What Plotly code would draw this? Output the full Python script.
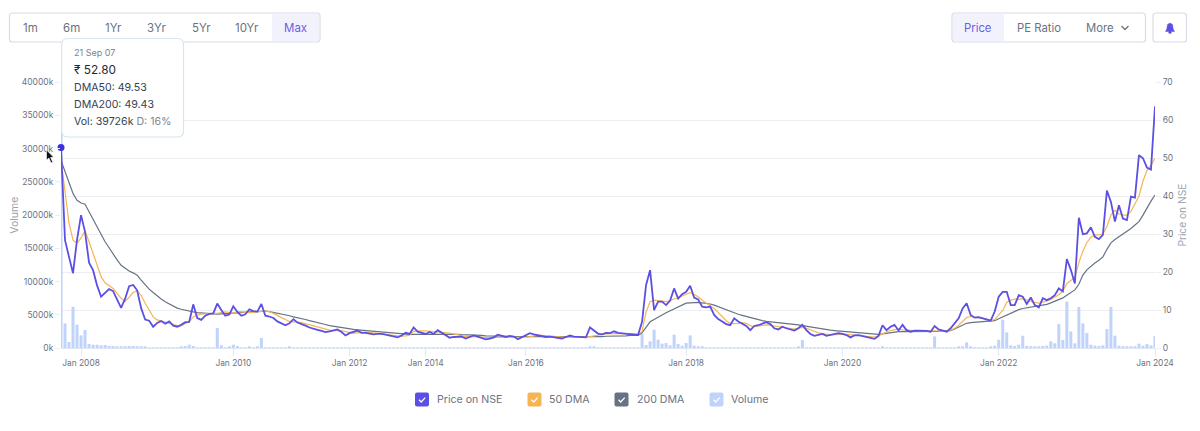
import pandas as pd
import plotly.graph_objects as go

W, H = 1200, 431
FONT = "Inter"
PURPLE = "#5b50e3"
ORANGE = "#f5b553"
SLATE = "#667385"
LIGHT = "#bfd3fb"
GRID = "#eceef2"
GREY = "#6b7280"

# each span of dates gets its own number of samples, the axis is not linear in time
date_spans = [
    ("2007-09-21", "2007-12-28", 5),
    ("2008-01-01", "2009-12-28", 38),
    ("2010-01-01", "2011-12-28", 29),
    ("2012-01-01", "2013-12-28", 19),
    ("2014-01-01", "2015-12-28", 25),
    ("2016-01-01", "2017-12-28", 40),
    ("2018-01-01", "2019-12-28", 39),
    ("2020-01-01", "2021-12-28", 39),
    ("2022-01-01", "2023-12-28", 39),
    ("2024-01-01", "2024-01-05", 1),
]
tick_dates = ["2008-01-01", "2010-01-01", "2012-01-01", "2014-01-01", "2016-01-01",
              "2018-01-01", "2020-01-01", "2022-01-01", "2024-01-01"]
tick_labels = ["Jan 2008", "Jan 2010", "Jan 2012", "Jan 2014", "Jan 2016",
               "Jan 2018", "Jan 2020", "Jan 2022", "Jan 2024"]

price = [
    52.8, 28.4, 24, 19.7, 28.5, 35, 30.6, 22.5, 20.5, 16.5,
    13.5, 14.5, 15.5, 15, 12.8, 10.6, 13, 16.3, 16.6, 15.2,
    10.5, 7.5, 7.2, 5.6, 6.6, 7.1, 6.4, 7, 5.9, 5.6,
    6.1, 6.8, 6.9, 11.5, 7.9, 7.4, 8.5, 9, 9.1, 11.7,
    10, 8.5, 8.8, 11, 9.5, 8.5, 8.9, 10.2, 9.7, 9.6,
    11.6, 8.5, 8.3, 7.9, 7, 6.4, 6, 6.5, 7.6, 6.7,
    6.4, 5.9, 5.4, 5.2, 4.8, 4.5, 4.2, 4.4, 4.6, 4.9,
    4.2, 3.3, 3.9, 4.3, 4.6, 4, 4, 3.8, 3.6, 3.7,
    3.7, 3.5, 3.3, 3, 2.8, 3.3, 4, 3.7, 5.4, 4.3,
    4, 3.7, 4.2, 3.7, 4.7, 4, 3.2, 2.7, 2.9, 3,
    3, 2.5, 2.9, 3.3, 3, 2.7, 2.3, 2.5, 2.8, 3.5,
    3.1, 2.9, 3.2, 3, 2.3, 2.8, 3.4, 3.9, 3.6, 3.3,
    3.1, 2.9, 3, 2.8, 2.7, 2.5, 2.9, 3.3, 3, 2.9,
    2.8, 2.8, 5.4, 4.6, 3.8, 3.6, 4, 3.9, 4.4, 4,
    3.9, 3.9, 3.8, 3.6, 3.4, 6.9, 16.6, 20.5, 10, 12.2,
    12.2, 11.3, 12.5, 15.7, 13, 14.2, 14.8, 16.4, 13.3, 12.8,
    10.9, 10.7, 10.9, 8.7, 7.6, 7, 6.3, 6, 7.8, 7,
    6.5, 5.8, 4.7, 5.8, 6, 6.3, 6.8, 6.3, 5.2, 4.9,
    5.6, 5.2, 4.9, 4.6, 5.2, 6.1, 4.7, 3.7, 3.2, 3.5,
    3.7, 3.2, 3.5, 3.8, 3.9, 3.7, 3.4, 2.8, 3.3, 3.4,
    3.2, 2.8, 2.6, 2.4, 3.2, 6, 4.7, 5.6, 6.1, 4.6,
    6.1, 4.7, 4.3, 4.6, 4.6, 4.6, 4.5, 4.3, 5.8, 4.9,
    4.6, 4.3, 5.2, 6.5, 7.8, 10.4, 11.8, 8.7, 8, 8.1,
    7.8, 7.6, 7.2, 9.6, 13.5, 14.8, 14.8, 11.3, 11.3, 13.9,
    13.5, 11.6, 13.3, 11.3, 10.7, 13.1, 12.6, 13.1, 13.9, 15.7,
    14.9, 23.4, 20.6, 17, 34.3, 30, 30.2, 31.8, 29.3, 28.7,
    29.8, 41.5, 38.5, 33.3, 37.6, 34.1, 33.7, 39.9, 39.6, 50.8,
    50, 47.5, 47, 63.7,
]

dma50 = [
    49.6, 41.6, 32.9, 28.4, 27.6, 29, 30.9, 28, 25, 21.8,
    18.8, 17.2, 16.4, 15.7, 14.4, 13.1, 12.2, 13.5, 14.6, 15.1,
    13.9, 11.8, 9.8, 8.2, 7.4, 7.1, 6.9, 6.6, 6.2, 5.9,
    5.9, 6.4, 6.9, 8.2, 8.7, 8.9, 9, 9, 9.1, 9.1,
    9.4, 9.5, 9.3, 9.2, 9.5, 9.6, 9.4, 9.3, 9.4, 9.5,
    9.7, 9.8, 9.6, 9.2, 8.6, 8, 7.4, 7, 6.9, 6.9,
    6.7, 6.4, 6.1, 5.8, 5.5, 5.1, 4.9, 4.7, 4.6, 4.6,
    4.6, 4.3, 4, 3.9, 4, 4.2, 4.2, 4.1, 3.9, 3.8,
    3.7, 3.6, 3.5, 3.4, 3.2, 3.1, 3.2, 3.4,
    4.4, 4.5, 4.5, 4.5, 4.4, 4.3, 4.3, 4.2, 4.1, 3.9, 3.7,
    3.4, 3.2, 3, 3, 3, 3, 2.9, 2.8, 2.7, 2.7, 2.8,
    2.8, 2.8, 2.9, 2.9, 2.8, 2.8, 2.9, 3, 3.2, 3.3, 3.3,
    3.2, 3.1, 3, 2.9, 2.8, 2.8, 2.8, 2.9, 2.9, 2.9, 2.9,
    3, 3.2, 3.4, 3.6, 3.7, 3.8, 3.8, 3.9, 3.9, 3.9, 3.9, 3.8, 3.7,
    4.3, 9.5, 12.2, 12.6, 12.4, 12.2, 12.2, 12.5, 13, 13.3,
    13.7, 14.2, 14.6, 14.1, 13.5, 12.6, 11.9, 11.3, 10.4, 9.4,
    8.2, 7.2, 6.5, 6.4, 6.5, 6.7, 6.5, 5.9, 5.6, 5.8,
    6, 6.1, 6, 5.8, 5.6, 5.4, 5.3, 5.2,
    5, 5.2, 5.4, 5.2, 4.9, 4.4, 4, 3.8, 3.6, 3.5,
    3.5, 3.6, 3.6, 3.6, 3.5, 3.4, 3.3, 3.2, 3.1, 3,
    2.9, 3.2, 3.8, 4.2, 4.6, 4.9, 5,
    4.8, 4.7, 4.7, 4.6, 4.6, 4.6, 4.5, 4.5, 4.5, 4.5,
    4.4, 4.4, 4.7, 5.2, 6, 6.9, 8, 8.3, 8.2, 8,
    7.8, 7.6, 7.2, 7.5, 8.8, 9.9, 12, 12.6, 12.9, 12.8,
    13, 12.6, 12.2, 12, 11.8, 12, 12.4, 12.8, 13.3, 14,
    15, 17, 17.8, 18.5, 22.5, 25.5, 27.8, 29.2, 29.8, 29.8,
    30, 32, 35, 36.3, 35.3, 35, 35, 36, 38, 40,
    44, 46.8, 48.2, 50,
]

dma200 = [
    49.4, 46.4, 43.4, 40.7, 38.9, 38.2, 37.9, 35.9, 33.7, 31.8,
    29.7, 28, 26.4, 24.7, 23.2, 21.8, 21, 20.3, 19.8, 19.2,
    17.9, 16.6, 15.5, 14.6, 13.7, 12.9, 12.2, 11.6, 11.1, 10.5,
    10.2, 9.9, 9.7, 9.5, 9.3, 9.2, 9.05,
    9, 8.9, 8.9, 9, 9, 9.1, 9.2, 9.3, 9.4, 9.5,
    9.5, 9.6, 9.6, 9.7, 9.7, 9.6, 9.4, 9.2, 9, 8.7,
    8.5, 8.2, 8, 7.7, 7.5, 7.2, 7, 6.7, 6.4, 6.2,
    5.9, 5.7, 5.5, 5.3, 5.1, 5, 4.9, 4.8, 4.7, 4.6,
    4.5, 4.4, 4.3, 4.2, 4.1, 4, 3.9, 3.8, 3.7, 3.7, 3.6,
    3.6, 3.6, 3.6, 3.6, 3.6, 3.6, 3.7, 3.7, 3.7, 3.7, 3.6,
    3.6, 3.5, 3.5, 3.4, 3.4, 3.3, 3.3, 3.2, 3.2, 3.1, 3.1,
    3.1, 3.1, 3, 3, 3, 3, 3, 3, 3, 3, 3,
    3, 3, 2.9, 2.9, 2.9, 2.9, 2.9, 2.9, 2.9, 2.9, 2.9,
    2.9, 3, 3, 3, 3.1, 3.1, 3.1, 3.2, 3.2, 3.2, 3.3, 3.3, 3.3,
    4, 5.6, 6.9, 7.5, 8, 8.7, 9.3, 9.8, 10.4, 10.9,
    11.3, 11.8, 11.9, 12, 12, 11.9, 11.8, 11.6, 11.3, 10.9,
    10.4, 10, 9.5, 9.1, 8.9, 8.6, 8.3, 8, 7.7, 7.4,
    7.2, 7, 6.9, 6.8, 6.6, 6.5, 6.4, 6.3,
    6.2, 6.1, 5.9, 5.7, 5.5, 5.3, 5.1, 4.9, 4.8, 4.7,
    4.6, 4.5, 4.4, 4.3, 4.2, 4.1, 4, 3.9, 3.8, 3.7,
    3.6, 3.6, 3.7, 3.9, 4.1, 4.2, 4.3,
    4.3, 4.3, 4.3, 4.3, 4.3, 4.3, 4.3, 4.3, 4.3, 4.4,
    4.4, 4.5, 4.6, 5, 5.5, 6, 6.5, 6.7, 6.8, 6.9,
    7, 7, 7.1, 7.2, 7.7, 8.2, 8.8, 9.3, 9.8, 10.1,
    10.4, 10.6, 10.8, 10.9, 11.1, 11.2, 11.5, 11.9, 12.3, 12.7,
    13.2, 13.9, 14.7, 15.3, 16.8, 19.2, 20.6, 21.6, 22.4, 23.1,
    24, 26, 27.7, 28.6, 29.3, 30, 30.7, 31.5, 32.4, 33.3,
    35, 37, 38.7, 40.3,
]

# volume in thousands
volume = [
    39726, 3700, 900, 6200, 3500, 1900, 2700, 600, 500, 500,
    400, 450, 300, 300, 250, 200, 200, 300, 300, 250,
    150, 120, 100, 100, 80, 80, 60, 60, 60, 80,
    150, 300, 500, 300, 100, 80, 60,
    60, 50, 3000, 400, 100, 200, 500, 300, 60, 80,
    250, 60, 150, 1500, 100, 80, 60, 50, 60, 50,
    200, 100, 40, 50, 40, 30, 30, 30, 30, 30,
    30, 30, 30, 30, 80, 50, 30, 30, 30, 30,
    30, 30, 30, 30, 30, 30, 30, 30, 30, 30, 30,
    60, 40, 30, 30, 30, 30, 30, 30, 30, 30, 30,
    30, 30, 30, 30, 30, 30, 30, 30, 30, 30, 30,
    30, 30, 30, 30, 30, 30, 30, 30, 30, 30, 30,
    30, 30, 30, 30, 30, 30, 30, 30, 30, 30, 30,
    200, 250, 100, 80, 60, 50, 50, 40, 40, 40, 40, 40, 40,
    2150, 450, 1000, 2760, 1250, 650, 750, 400, 2000, 600,
    350, 750, 1900, 350, 250, 150, 100, 80, 60, 60,
    100, 80, 60, 50, 40, 40, 60, 50, 40, 40,
    40, 40, 40, 40, 40, 40, 40, 40,
    40, 200, 1200, 60, 40, 40, 40, 40, 40, 40,
    40, 40, 40, 40, 40, 40, 40, 40, 40, 40,
    60, 100, 120, 100, 100, 80, 100,
    60, 50, 60, 80, 60, 60, 80, 100, 1750, 100,
    60, 60, 60, 100, 150, 120, 850, 200, 100, 80,
    60, 80, 150, 350, 1250, 4270, 2350, 400, 300, 500,
    1850, 300, 150, 150, 200, 300, 350, 1000, 700, 3600,
    1200, 7000, 2500, 700, 6170, 3700, 2250, 500, 350, 300,
    400, 2850, 6170, 1850, 350, 250, 200, 150, 150, 650,
    350, 600, 400, 1850,
]

range_buttons = ["1m", "6m", "1Yr", "3Yr", "5Yr", "10Yr", "Max"]
view_buttons = ["Price", "PE Ratio", "More"]

dates = []
for start, end, n in date_spans:
    if n == 1:
        dates.append(start)
    else:
        dates += [d.strftime("%Y-%m-%d") for d in pd.date_range(start, end, periods=n)]


def fx(px):
    return px / W


def fy(py):
    return 1 - py / H


def rounded(x0, y0, x1, y1, r):
    # rounded box path in paper coordinates, input in pixels
    pts = [
        f"M {fx(x0 + r)} {fy(y0)}", f"L {fx(x1 - r)} {fy(y0)}", f"Q {fx(x1)} {fy(y0)} {fx(x1)} {fy(y0 + r)}",
        f"L {fx(x1)} {fy(y1 - r)}", f"Q {fx(x1)} {fy(y1)} {fx(x1 - r)} {fy(y1)}",
        f"L {fx(x0 + r)} {fy(y1)}", f"Q {fx(x0)} {fy(y1)} {fx(x0)} {fy(y1 - r)}",
        f"L {fx(x0)} {fy(y0 + r)}", f"Q {fx(x0)} {fy(y0)} {fx(x0 + r)} {fy(y0)} Z",
    ]
    return " ".join(pts)


def polyline(points, close=False):
    s = " ".join(("M" if i == 0 else "L") + f" {fx(x)} {fy(y)}" for i, (x, y) in enumerate(points))
    return s + (" Z" if close else "")


shapes = []
annotations = []


def box(x0, y0, x1, y1, r, fill, line="rgba(0,0,0,0)", width=1):
    shapes.append(dict(type="path", xref="paper", yref="paper", path=rounded(x0, y0, x1, y1, r),
                       fillcolor=fill, line=dict(color=line, width=width), layer="above"))


def label(x, y, text, size=12, color=GREY, anchor="center"):
    annotations.append(dict(x=fx(x), y=fy(y), xref="paper", yref="paper", text=text, showarrow=False,
                            xanchor=anchor, yanchor="middle", borderpad=0,
                            font=dict(family=FONT, size=size, color=color)))


fig = go.Figure()

fig.add_trace(go.Bar(x=dates, y=volume, name="Volume", marker=dict(color=LIGHT, line=dict(width=0)),
                     yaxis="y"))
fig.add_trace(go.Scatter(x=dates, y=dma200, name="200 DMA", mode="lines",
                         line=dict(color=SLATE, width=1.2), yaxis="y2"))
fig.add_trace(go.Scatter(x=dates, y=dma50, name="50 DMA", mode="lines",
                         line=dict(color=ORANGE, width=1.2), yaxis="y2"))
fig.add_trace(go.Scatter(x=dates, y=price, name="Price on NSE", mode="lines",
                         line=dict(color=PURPLE, width=1.8), yaxis="y2"))
fig.add_trace(go.Scatter(x=dates[:1], y=price[:1], mode="markers", marker=dict(color="#3a2ee6", size=7),
                         cliponaxis=False, yaxis="y2", showlegend=False))

# range buttons
box(9.5, 13, 320, 42, 3, "white", "#d9dce6", 1.2)
box(272, 14, 319, 41, 2, "#f2f2fc")
for name, cx in zip(range_buttons, [30, 71, 113, 156, 201, 247, 295]):
    label(cx, 28, name, 11.5, "#6a5ee4" if name == "Max" else GREY)

# price / pe / more and the alert button
box(952, 13, 1145.5, 42, 3, "white", "#d9dce6", 1.2)
box(953, 14, 1004, 41, 2, "#f2f2fc")
for name, cx in zip(view_buttons, [978, 1039, 1100]):
    label(cx, 28, name, 11.3, "#6a5ee4" if name == "Price" else GREY)
shapes.append(dict(type="path", xref="paper", yref="paper", layer="above",
                   path=polyline([(1121.5, 26), (1125, 29.5), (1128.5, 26)]),
                   line=dict(color=GREY, width=1.3)))
box(1153, 13, 1186.5, 42, 3, "white", "#d9dce6", 1.2)
shapes.append(dict(type="path", xref="paper", yref="paper", layer="above", fillcolor=PURPLE,
                   line=dict(color=PURPLE, width=0.5),
                   path=polyline([(1170, 23), (1172.5, 24.5), (1173.2, 29), (1174.5, 31.5), (1165.5, 31.5),
                                  (1166.8, 29), (1167.5, 24.5)], close=True)))
shapes.append(dict(type="circle", xref="paper", yref="paper", layer="above", fillcolor=PURPLE, line=dict(width=0),
                   x0=fx(1168.5), x1=fx(1171.5), y0=fy(33.8), y1=fy(30.8)))

# hover tooltip
box(61.7, 38.5, 183.5, 137, 6, "white", "#d8e6f0", 1.2)
label(73, 52.7, "21 Sep 07", 9, "#7b8491", "left")
label(73, 69.5, "₹ 52.80", 11.8, "#1f2937", "left")
label(73, 87, "DMA50: 49.53", 10.6, "#374151", "left")
label(73, 104, "DMA200: 49.43", 10.6, "#374151", "left")
label(73, 121.5, "Vol: 39726k <span style='color:#7b8491'>D: 16%</span>", 10.6, "#374151", "left")

# mouse cursor
shapes.append(dict(type="path", xref="paper", yref="paper", layer="above", fillcolor="#111111",
                   line=dict(color="white", width=0.6),
                   path=polyline([(46.5, 150), (46.5, 160), (49, 158), (51, 163), (52.7, 162), (50.6, 157.5), (53.5, 157)],
                                 close=True)))

# legend drawn as check boxes
legend_items = [("Price on NSE", PURPLE, 415, 435.5), ("50 DMA", ORANGE, 527.5, 548),
                ("200 DMA", SLATE, 614.5, 635.5), ("Volume", LIGHT, 709.5, 730)]
for name, colour, bx, tx in legend_items:
    box(bx, 392.5, bx + 14, 406.5, 2, colour)
    shapes.append(dict(type="path", xref="paper", yref="paper", layer="above",
                       path=polyline([(bx + 4, 399.8), (bx + 6.2, 402), (bx + 10.2, 397.6)]),
                       line=dict(color="white", width=1.3)))
    label(tx, 399.5, name, 10.6, GREY, "left")

fig.update_layout(
    width=W, height=H,
    margin=dict(l=0, r=0, t=0, b=0, autoexpand=False),
    paper_bgcolor="white",
    plot_bgcolor="white",
    font=dict(family=FONT, size=10, color=GREY),
    showlegend=False,
    bargap=0.25,
    shapes=shapes,
    annotations=annotations,
    xaxis=dict(
        domain=[fx(61), fx(1155)], type="category", range=[0, len(dates) - 1],
        categoryorder="array", categoryarray=dates,
        tickmode="array", tickvals=tick_dates, ticktext=tick_labels,
        ticks="outside", ticklen=7, tickcolor="#e4e7ee", showgrid=False, zeroline=False,
        showline=True, linecolor="#dfe5f2", linewidth=1, tickangle=0, tickfont=dict(size=8.4, color=GREY),
    ),
    yaxis=dict(
        domain=[fy(348), fy(82.3)], range=[0, 40000], tickmode="linear", tick0=0, dtick=5000,
        ticksuffix="k", tickformat="d", showgrid=False, zeroline=False, ticks="outside", ticklen=5,
        tickcolor=GRID, tickfont=dict(size=8.5, color=GREY),
        title=dict(text="Volume", font=dict(size=10.5, color="#9ca3af"), standoff=1),
    ),
    yaxis2=dict(
        domain=[fy(348), fy(82.3)], range=[0, 70], overlaying="y", side="right", anchor="x",
        tickmode="linear", tick0=0, dtick=10, showgrid=True, gridcolor=GRID, gridwidth=1, zeroline=False,
        ticks="outside", ticklen=5, tickcolor=GRID, tickfont=dict(size=8.5, color=GREY),
        title=dict(text="Price on NSE", font=dict(size=10.2, color="#9ca3af"), standoff=6),
    ),
)

fig.write_html("out.html", config=dict(displayModeBar=False),
               post_script="document.body.style.margin='0';document.body.style.overflow='hidden';")
